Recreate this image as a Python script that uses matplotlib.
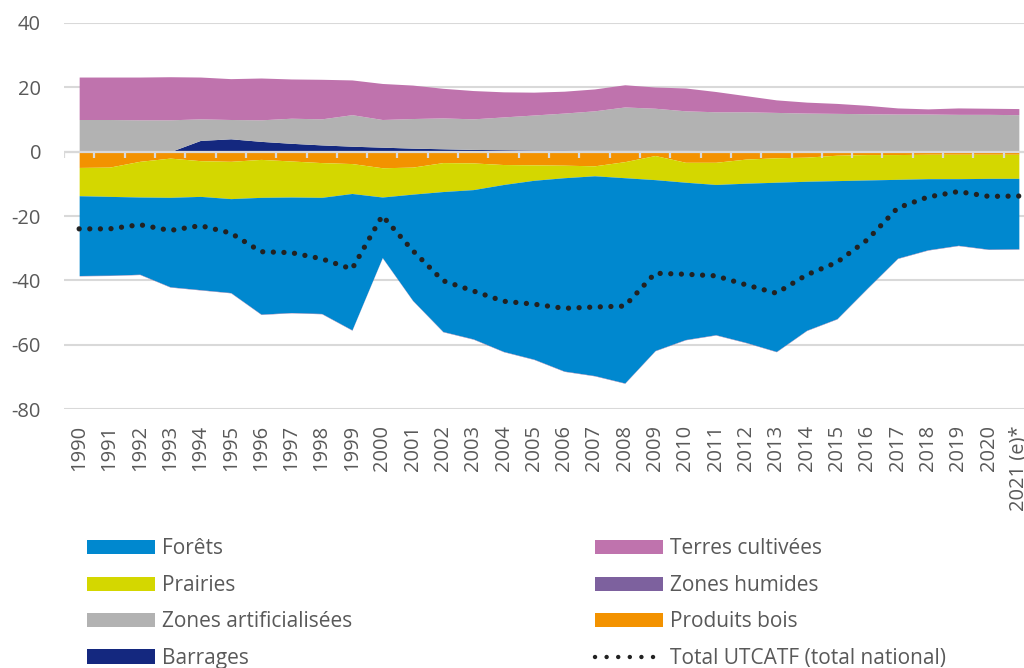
import numpy as np
import matplotlib
matplotlib.use('Agg')
import matplotlib.pyplot as plt
from matplotlib.lines import Line2D
from matplotlib.patches import Patch

plt.rcParams['font.family'] = ['Open Sans', 'DejaVu Sans']
plt.rcParams['axes.unicode_minus'] = False

years = [str(y) for y in range(1990, 2021)] + ['2021 (e)*']

# puits / sources par catégorie (Mt CO2e)
barrages = [0.0, 0.0, 0.0, 0.0, 3.5, 4.0, 3.2, 2.6, 2.1, 1.7, 1.4, 1.1, 0.9, 0.7, 0.6, 0.5,
            0.5, 0.4, 0.4, 0.4, 0.4, 0.3, 0.3, 0.2, 0.1, 0.0, 0.0, 0.0, 0.0, 0.0, 0.0, 0.0]
zones_artif = [10.0, 10.0, 9.9, 9.9, 6.7, 6.0, 6.7, 7.8, 8.1, 9.8, 8.6, 9.2, 9.6, 9.5, 10.2, 10.9,
               11.5, 12.3, 13.5, 13.1, 12.3, 12.1, 12.1, 12.0, 11.9, 11.9, 11.8, 11.7, 11.7, 11.6, 11.6, 11.5]
terres_cult = [13.2, 13.2, 13.3, 13.4, 13.0, 12.7, 13.0, 12.2, 12.3, 10.8, 11.2, 10.4, 9.2, 8.8, 7.8, 7.1,
               6.8, 6.8, 6.9, 6.6, 7.1, 6.3, 5.0, 3.9, 3.4, 3.1, 2.6, 1.9, 1.6, 2.0, 1.9, 1.9]
produits_bois = [-4.9, -4.8, -3.0, -2.0, -2.8, -3.0, -2.4, -2.9, -3.4, -3.7, -5.0, -4.8, -3.4, -3.5, -4.0, -4.1,
                 -4.2, -4.4, -3.1, -1.2, -3.3, -3.3, -2.3, -1.9, -1.7, -1.1, -0.9, -0.9, -0.8, -0.8, -0.8, -0.8]
prairies = [-8.8, -9.1, -11.1, -12.2, -11.1, -11.6, -11.8, -11.2, -10.8, -9.3, -9.1, -8.4, -9.0, -8.3, -6.2, -4.8,
            -3.9, -3.1, -5.0, -7.5, -6.2, -6.9, -7.5, -7.6, -7.5, -7.9, -7.9, -7.7, -7.6, -7.6, -7.5, -7.5]
forets = [-24.8, -24.5, -24.0, -27.8, -29.0, -29.2, -36.3, -35.9, -36.1, -42.4, -18.8, -33.0, -43.5, -46.4, -51.9, -55.6,
          -60.1, -62.1, -63.8, -53.1, -48.9, -46.7, -49.5, -52.6, -46.3, -42.9, -33.6, -24.5, -22.1, -20.7, -22.0, -21.9]
zones_humides = [-0.1] * 32
total = [-24.0, -24.0, -22.7, -24.5, -23.0, -25.3, -31.1, -31.4, -33.3, -36.5, -19.9, -30.7, -40.1, -43.3, -46.5, -47.4,
         -48.7, -48.3, -48.0, -37.8, -38.1, -38.6, -41.4, -44.0, -38.3, -34.4, -27.4, -17.5, -14.1, -12.4, -13.9, -13.8]

colors = {
    'Forêts': '#0088cf',
    'Terres cultivées': '#bf73ad',
    'Prairies': '#d4d700',
    'Zones humides': '#7d619e',
    'Zones artificialisées': '#b2b2b2',
    'Produits bois': '#f39200',
    'Barrages': '#14287f',
}
grid_c = '#d9d9d9'
text_c = '#595959'

fig = plt.figure(figsize=(10.24, 6.68), dpi=100)
ax = fig.add_axes([64 / 1024, 1 - 409 / 668, 970 / 1024, 386 / 668])

x = np.arange(len(years))

# positive stack
pos = [('Barrages', barrages), ('Zones artificialisées', zones_artif), ('Terres cultivées', terres_cult)]
base = np.zeros(len(x))
for name, vals in pos:
    top = base + np.array(vals)
    ax.fill_between(x, base, top, color=colors[name], lw=0, zorder=2)
    base = top

# negative stack
neg = [('Produits bois', produits_bois), ('Prairies', prairies), ('Forêts', forets), ('Zones humides', zones_humides)]
base = np.zeros(len(x))
for name, vals in neg:
    bot = base + np.array(vals)
    ax.fill_between(x, base, bot, color=colors[name], lw=0, zorder=2)
    base = bot

ax.plot(x, total, color='#222222', lw=3.8, linestyle=(0, (0.01, 2.0)),
        dash_capstyle='round', zorder=4)

# zero line with category ticks
ax.axhline(0, color=grid_c, lw=1.6, zorder=3)
bounds = np.arange(-0.5, len(x), 1.0)
ax.plot(bounds, np.zeros(len(bounds)), linestyle='none', marker=3, ms=4.5,
        mew=1.6, color=grid_c, zorder=3)

ax.set_xlim(-0.5, len(x) - 0.5)
ax.set_ylim(-80, 40)
ax.set_yticks([-80, -60, -40, -20, 0, 20, 40])
ax.yaxis.grid(True, color=grid_c, lw=1.5, zorder=0)
ax.set_axisbelow(True)
for s in ax.spines.values():
    s.set_visible(False)

ax.set_xticks(x)
ax.set_xticklabels(years, rotation=90, va='top', ha='center')
ax.tick_params(axis='x', length=0, pad=11.5, labelsize=14.5, labelcolor=text_c)
ax.tick_params(axis='y', length=0, pad=16.5, labelsize=14.5, labelcolor=text_c)

# legend: two columns
def patch(name):
    return Patch(facecolor=colors[name], edgecolor='none')

left_items = ['Forêts', 'Prairies', 'Zones artificialisées', 'Barrages']
right_items = ['Terres cultivées', 'Zones humides', 'Produits bois']
leg_kw = dict(frameon=False, fontsize=15, handlelength=3.25, handleheight=0.67,
              handletextpad=0.34, labelspacing=0.74, borderpad=0, borderaxespad=0,
              loc='upper left', labelcolor=text_c)
leg1 = fig.legend([patch(n) for n in left_items], left_items,
                  bbox_to_anchor=(87 / 1024, 1 - 538.5 / 668), **leg_kw)
tot_handle = Line2D([], [], color='#222222', lw=3.2, linestyle=(0, (0.01, 2.6)),
                    dash_capstyle='round')
leg2 = fig.legend([patch(n) for n in right_items] + [tot_handle],
                  right_items + ['Total UTCATF (total national)'],
                  bbox_to_anchor=(595 / 1024, 1 - 538.5 / 668), **leg_kw)

fig.savefig('out.png', dpi=100)
